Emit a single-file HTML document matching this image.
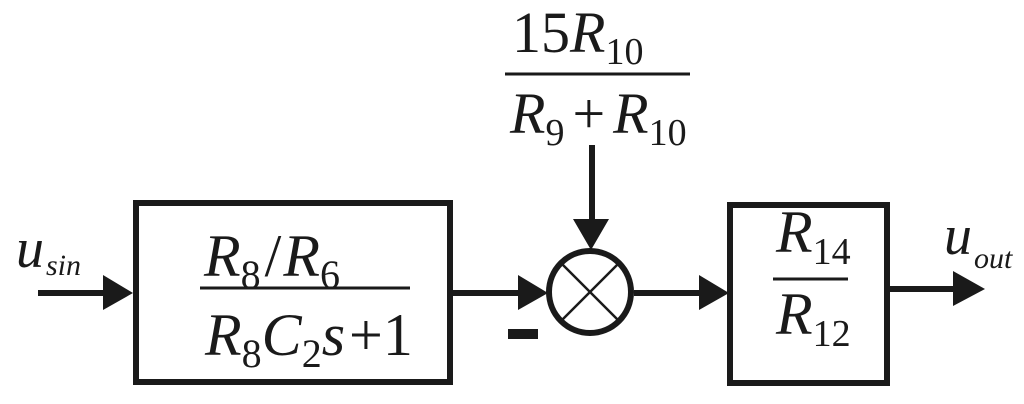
<!DOCTYPE html>
<html><head><meta charset="utf-8"><style>
html,body{margin:0;padding:0;background:#fff;}
svg{display:block;}
text{font-family:"Liberation Serif","Times New Roman","Nimbus Roman","DejaVu Serif",serif;fill:#1a1a1a;}
.i{font-style:italic;}
</style></head><body>
<svg width="1024" height="404" viewBox="0 0 1024 404" xmlns="http://www.w3.org/2000/svg" font-family="Liberation Serif, Times New Roman, DejaVu Serif, serif">
<g stroke="#1a1a1a" fill="none">
<rect x="136" y="203" width="314" height="179" stroke-width="6"/>
<rect x="730" y="205" width="157" height="178" stroke-width="6"/>
<circle cx="590" cy="292" r="41" stroke-width="6"/>
<line x1="561" y1="263" x2="619" y2="321" stroke-width="2.5"/>
<line x1="619" y1="263" x2="561" y2="321" stroke-width="2.5"/>
<line x1="38" y1="293" x2="108" y2="293" stroke-width="6"/>
<line x1="453" y1="293" x2="522" y2="293" stroke-width="6"/>
<line x1="634" y1="293" x2="702" y2="293" stroke-width="6"/>
<line x1="890" y1="289" x2="957" y2="289" stroke-width="6"/>
<line x1="592" y1="145" x2="592" y2="222" stroke-width="6"/>
<line x1="200" y1="288" x2="410" y2="288" stroke-width="3"/>
<line x1="773" y1="279" x2="848" y2="279" stroke-width="3"/>
<line x1="505" y1="74" x2="690" y2="74" stroke-width="3"/>
</g>
<g fill="#1a1a1a">
<polygon points="103,275 133,293 103,310"/>
<polygon points="518,275 548,293 518,310"/>
<polygon points="699,275 729,293 699,310"/>
<polygon points="953,271 985,289 953,306"/>
<polygon points="573,219 609,219 591,250"/>
<rect x="508" y="329" width="30" height="10"/>
</g>
<text x="16" y="267" font-size="56" class="i">u</text>
<text x="46" y="275" font-size="30" class="i">sin</text>
<text x="204" y="276" font-size="60"><tspan class="i">R</tspan><tspan font-size="40" dy="12">8</tspan><tspan dy="-12" dx="4">/</tspan><tspan class="i" dx="2">R</tspan><tspan font-size="40" dy="12">6</tspan></text>
<text x="205" y="355" font-size="60"><tspan class="i">R</tspan><tspan font-size="40" dy="12">8</tspan><tspan class="i" dy="-12">C</tspan><tspan font-size="40" dy="12">2</tspan><tspan class="i" dy="-12">s</tspan><tspan dx="4">+1</tspan></text>
<text x="512" y="52" font-size="58"><tspan>15</tspan><tspan class="i">R</tspan><tspan font-size="38" dy="12">10</tspan></text>
<text x="510" y="133" font-size="58"><tspan class="i">R</tspan><tspan font-size="38" dy="12">9</tspan><tspan dy="-12" dx="8">+</tspan><tspan class="i" dx="8">R</tspan><tspan font-size="38" dy="12">10</tspan></text>
<text x="776" y="252" font-size="60"><tspan class="i">R</tspan><tspan font-size="38" dy="12">14</tspan></text>
<text x="776" y="334" font-size="60"><tspan class="i">R</tspan><tspan font-size="38" dy="12">12</tspan></text>
<text x="944" y="254" font-size="56" class="i">u</text>
<text x="974" y="268" font-size="30" class="i">out</text>
</svg>
</body></html>
